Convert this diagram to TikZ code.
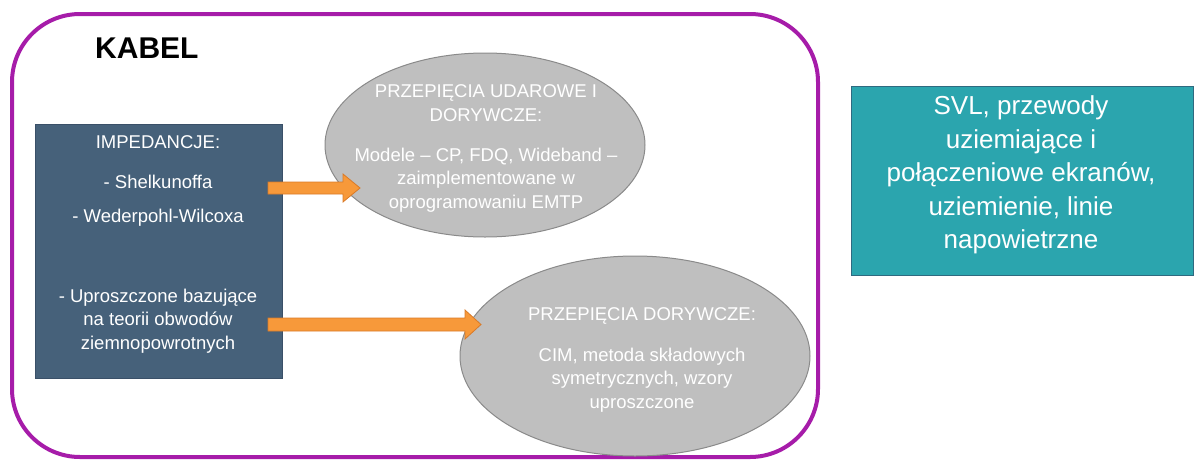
\documentclass[tikz,border=0pt]{standalone}
\usepackage{fontspec}
\setmainfont{Liberation Sans}
\usetikzlibrary{shapes.geometric}
\definecolor{frameviolet}{HTML}{A61CA9}
\definecolor{slateblue}{HTML}{46617A}
\definecolor{slateedge}{HTML}{3A5068}
\definecolor{tealbox}{HTML}{2BA5AE}
\definecolor{tealedge}{HTML}{2F6A80}
\definecolor{ovalgray}{HTML}{BFBFBF}
\definecolor{ovaledge}{HTML}{8A8A8A}
\definecolor{arroworange}{HTML}{F7993A}
\definecolor{arrowedge}{HTML}{D97A28}
\tikzset{
  bodytext/.style={text=white, align=center, font=\fontsize{18.5}{23.5}\selectfont, inner sep=0},
  oval/.style={ellipse, fill=ovalgray, draw=ovaledge, line width=1pt, inner sep=0},
  blockarrow/.style={fill=arroworange, draw=arrowedge, line width=0.8pt, line join=miter},
}
\begin{document}
\begin{tikzpicture}[x=1pt, y=-1pt]
  \useasboundingbox (0,0) rectangle (1195,461);

  % cable frame
  \draw[frameviolet, line width=4pt, rounded corners=68pt] (12,14) rectangle (818,457);
  \node[anchor=west, font=\bfseries\fontsize{30}{36}\selectfont, inner sep=0] (kabel) at (95,48) {KABEL};

  % impedance box
  \node[fill=slateblue, draw=slateedge, line width=0.8pt, minimum width=247pt, minimum height=254pt, inner sep=0] (imp) at (158.5,251) {};
  \node[bodytext] (imp1) at (158,142) {IMPEDANCJE:};
  \node[bodytext] (imp2) at (158,182) {- Shelkunoffa};
  \node[bodytext] (imp3) at (158,218) {- Wederpohl-Wilcoxa};
  \node[bodytext] (imp4) at (158,321) {- Uproszczone bazujące\\na teorii obwodów\\ziemnopowrotnych};

  % surge and temporary overvoltages
  \node[oval, minimum width=320pt, minimum height=184pt] (ovA) at (485,145) {};
  \node[bodytext, text=white] (ovAt1) at (486,103) {PRZEPIĘCIA UDAROWE I\\DORYWCZE:};
  \node[bodytext, text=white] (ovAt2) at (486,180) {Modele – CP, FDQ, Wideband –\\zaimplementowane w\\oprogramowaniu EMTP};

  % temporary overvoltages
  \node[oval, minimum width=350pt, minimum height=200pt] (ovB) at (635,356) {};
  \node[bodytext, text=white] (ovBt1) at (642,316) {PRZEPIĘCIA DORYWCZE:};
  \node[bodytext, text=white] (ovBt2) at (642,380) {CIM, metoda składowych\\symetrycznych, wzory\\uproszczone};

  % block arrows
  \coordinate (a1) at (268,188);
  \coordinate (a2) at (268,324.5);
  \draw[blockarrow] (a1) ++(0,-6) -- ++(75,0) -- ++(0,-8) -- ++(17,14) -- ++(-17,14) -- ++(0,-8) -- ++(-75,0) -- cycle;
  \draw[blockarrow] (a2) ++(0,-6.5) -- ++(197,0) -- ++(0,-8) -- ++(16,14.5) -- ++(-16,14.5) -- ++(0,-8) -- ++(-197,0) -- cycle;

  % grounding and overhead lines box
  \node[fill=tealbox, draw=tealedge, line width=0.8pt, minimum width=342pt, minimum height=189pt, inner sep=0] (svl) at (1022,180.5) {};
  \node[bodytext, font=\fontsize{26}{33.5}\selectfont] (svlt) at (1021,175) {SVL, przewody\\uziemiające i\\połączeniowe ekranów,\\uziemienie, linie\\napowietrzne};
\end{tikzpicture}
\end{document}
